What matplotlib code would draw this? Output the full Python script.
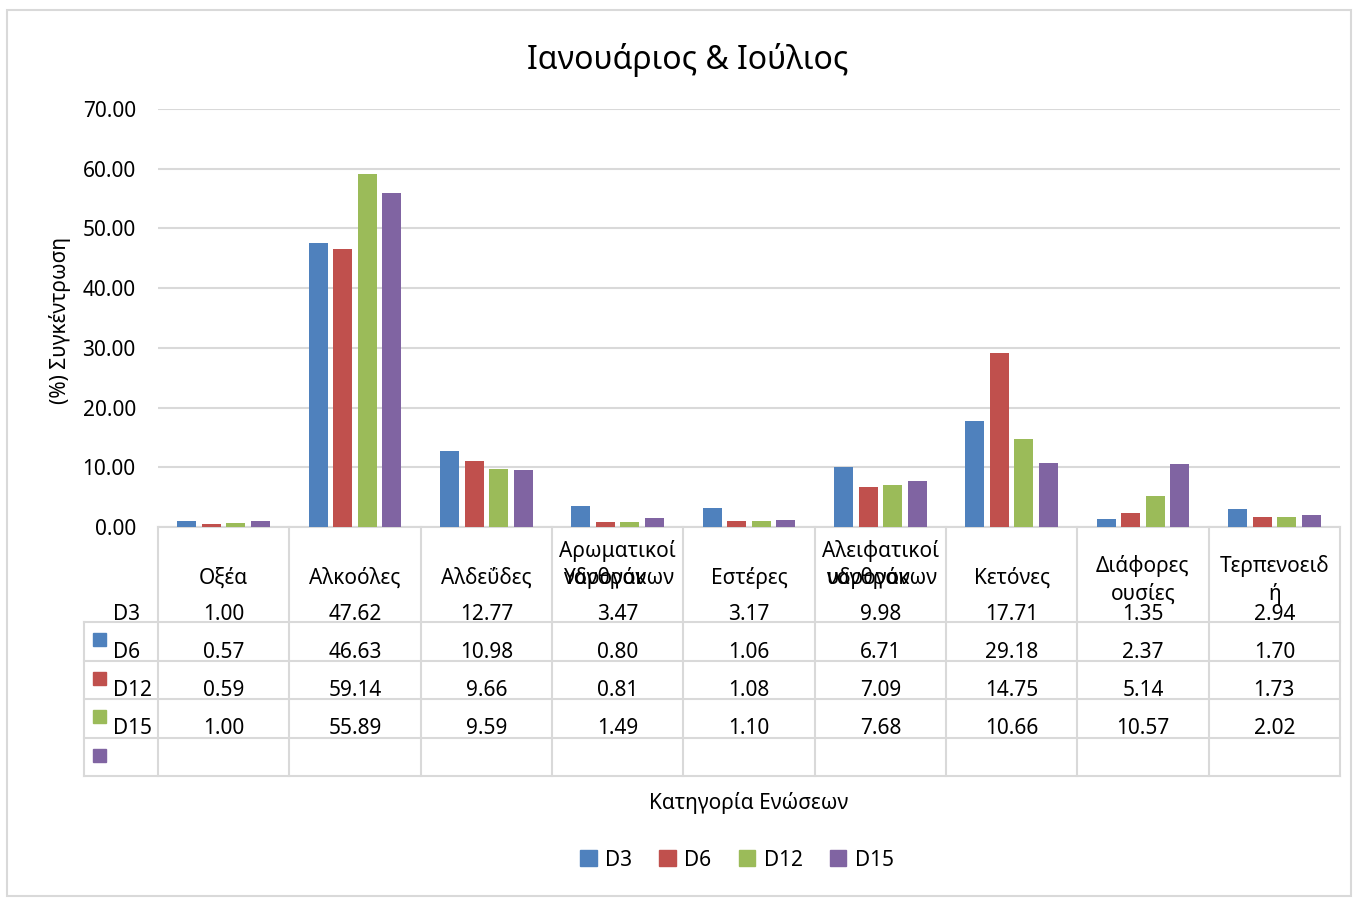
import numpy as np
import matplotlib
matplotlib.use('Agg')
import matplotlib.pyplot as plt
from matplotlib.patches import Patch, Rectangle
from matplotlib.transforms import blended_transform_factory

plt.rcParams['font.family'] = ['Noto Sans', 'DejaVu Sans']

# 화합물 분류와 측정일별 농도(%)
categories = ['Οξέα', 'Αλκοόλες', 'Αλδεΰδες', 'Αρωματικοί Υδρογονανθράκων', 'Εστέρες',
              'Αλειφατικοί υδρογονανθράκων', 'Κετόνες', 'Διάφορες ουσίες', 'Τερπενοειδή']
series = ['D3', 'D6', 'D12', 'D15']
d3 = [1.00, 47.62, 12.77, 3.47, 3.17, 9.98, 17.71, 1.35, 2.94]
d6 = [0.57, 46.63, 10.98, 0.80, 1.06, 6.71, 29.18, 2.37, 1.70]
d12 = [0.59, 59.14, 9.66, 0.81, 1.08, 7.09, 14.75, 5.14, 1.73]
d15 = [1.00, 55.89, 9.59, 1.49, 1.10, 7.68, 10.66, 10.57, 2.02]
colors = ['#4f81bd', '#c0504d', '#9bbb59', '#8064a2']

title = 'Ιανουάριος & Ιούλιος'
ylabel = '(%) Συγκέντρωση'
xlabel = 'Κατηγορία Ενώσεων'

W, H = 1357, 899
grid_c = '#d9d9d9'
fs = 15
dy = 3  # 텍스트 세로 보정

fig = plt.figure(figsize=(W / 100, H / 100), dpi=100)

# 픽셀 좌표용 배경 축
bg = fig.add_axes([0, 0, 1, 1], zorder=0)
bg.set_xlim(0, W)
bg.set_ylim(H, 0)
bg.axis('off')
bg.add_patch(Rectangle((7, 10), 1344, 886, fill=False, ec=grid_c, lw=1.5))

# 막대 그래프
ax = fig.add_axes([158 / W, 1 - 527 / H, (1340 - 158) / W, (527 - 109) / H], zorder=1)
ax.patch.set_alpha(0)
x = np.arange(len(categories))
bw = 0.145
step = 0.187
for k, vals in enumerate([d3, d6, d12, d15]):
    ax.bar(x + (k - 1.5) * step, vals, bw, color=colors[k], zorder=3)

ax.set_xlim(-0.5, len(categories) - 0.5)
ax.set_ylim(0, 70)
ax.set_yticks(np.arange(0, 71, 10))
ax.set_yticklabels(['%.2f' % v for v in np.arange(0, 71, 10)], fontsize=fs)
ax.set_xticks([])
ax.tick_params(axis='y', length=0, pad=16)
ax.grid(axis='y', color=grid_c, lw=1.5, zorder=0)
for s in ['left', 'right', 'top']:
    ax.spines[s].set_visible(False)
ax.spines['bottom'].set_color(grid_c)
ax.spines['bottom'].set_linewidth(1.5)

bg.text(688, 57 + dy, title, fontsize=23, ha='center', va='center')
bg.text(60, 320, ylabel, fontsize=fs, rotation=90, ha='center', va='center')
bg.text(749, 800 + dy, xlabel, fontsize=fs, ha='center', va='center')

# 데이터 테이블 (x는 범주 좌표, y는 픽셀)
tr = blended_transform_factory(ax.transData, bg.transData)
for i in range(len(categories) + 1):
    bg.plot([i - 0.5, i - 0.5], [527, 776], color=grid_c, lw=1.5, transform=tr, clip_on=False)
for yy in [622, 661, 699, 738, 776]:
    bg.plot([84, 1340], [yy, yy], color=grid_c, lw=1.5)
bg.plot([84, 84], [622, 776], color=grid_c, lw=1.5)

# 헤더 (긴 이름은 두 줄)
for i, name in enumerate(categories):
    if name.startswith('Αρωματικοί') or name.startswith('Αλειφατικοί'):
        first, second = name.split(' ')
        bg.text(i, 548 + dy, first, fontsize=fs, ha='center', va='center', transform=tr)
        # 두 번째 줄은 서로 겹쳐서 그려진다
        bg.text(i - 0.41, 575 + dy, second[:7], fontsize=fs, ha='left', va='center', transform=tr)
        bg.text(i + 0.43, 575 + dy, second[6:], fontsize=fs, ha='right', va='center', transform=tr)
    elif name == 'Διάφορες ουσίες':
        bg.text(i, 563 + dy, 'Διάφορες', fontsize=fs, ha='center', va='center', transform=tr)
        bg.text(i, 591 + dy, 'ουσίες', fontsize=fs, ha='center', va='center', transform=tr)
    elif name == 'Τερπενοειδή':
        bg.text(i, 563 + dy, 'Τερπενοειδ', fontsize=fs, ha='center', va='center', transform=tr)
        bg.text(i, 591 + dy, 'ή', fontsize=fs, ha='center', va='center', transform=tr)
    else:
        bg.text(i, 575 + dy, name, fontsize=fs, ha='center', va='center', transform=tr)

row_y = [611, 649, 687, 725]
for k, vals in enumerate([d3, d6, d12, d15]):
    for i, v in enumerate(vals):
        bg.text(i, row_y[k] + dy, '%.2f' % v, fontsize=fs, ha='center', va='center', transform=tr)
    bg.text(113, row_y[k] + dy, series[k], fontsize=fs, ha='left', va='center')
    bg.add_patch(Rectangle((93, 633 + 38.5 * k), 13, 13, color=colors[k]))

handles = [Patch(color=c, label=s) for c, s in zip(colors, series)]
fig.legend(handles=handles, loc='center', bbox_to_anchor=(737 / W, 1 - 860 / H), ncol=4,
           frameon=False, fontsize=fs, handlelength=0.8, handleheight=0.8,
           handletextpad=0.4, columnspacing=1.3)

fig.savefig('out.png', dpi=100)
